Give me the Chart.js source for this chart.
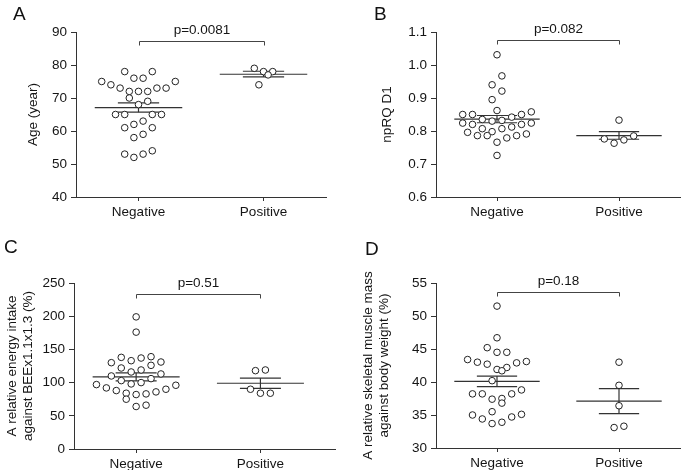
<!DOCTYPE html>
<html><head><meta charset="utf-8">
<script src="https://cdn.jsdelivr.net/npm/chart.js@4/dist/chart.umd.min.js"></script>
<style>
html,body{margin:0;padding:0;background:#fff;}
#wrap{position:relative;width:685px;height:470px;overflow:hidden;font-family:"Liberation Sans",Arial,Helvetica,sans-serif;}
.panel{position:absolute;}
.panel canvas{display:block;}
.letter{position:absolute;font-size:19px;line-height:1;color:#111;}
</style></head><body>
<div id="wrap">
  <div class="panel" style="left:0;top:0;"><canvas id="cA" width="340" height="235"></canvas></div>
  <div class="panel" style="left:340px;top:0;"><canvas id="cB" width="345" height="235"></canvas></div>
  <div class="panel" style="left:0;top:235px;"><canvas id="cC" width="340" height="235"></canvas></div>
  <div class="panel" style="left:340px;top:235px;"><canvas id="cD" width="345" height="235"></canvas></div>
  <div class="letter" style="left:13px;top:4px;">A</div>
  <div class="letter" style="left:374px;top:4px;">B</div>
  <div class="letter" style="left:4px;top:237px;">C</div>
  <div class="letter" style="left:365px;top:239px;">D</div>
</div>
<script>
// ---------- DATA ----------
const categories = ["Negative", "Positive"];

// Panel A: Age (year)
const ageNegative = [78,78,76,76,75,75,74,73,73,73,72,72,72,70,69,68,65,65,65,65,63,62,61,61,59,58,54,53,53,52];
const agePositive = [79,78,78,77,74];
const ageMean = [67.1, 77.2];
const ageSemLow = [65.7, 76.4];
const ageSemHigh = [68.5, 78.1];
const ageTicks = [40,50,60,70,80,90];
const ageP = "p=0.0081";

// Panel B: npRQ D1
const rqNegative = [1.031,0.967,0.940,0.921,0.895,0.862,0.858,0.850,0.850,0.850,0.842,0.835,0.832,0.830,0.824,0.824,0.820,0.820,0.812,0.807,0.807,0.798,0.796,0.791,0.786,0.786,0.786,0.779,0.766,0.726];
const rqPositive = [0.833,0.785,0.776,0.773,0.763];
const rqMean = [0.836, 0.786];
const rqSemLow = [0.825, 0.775];
const rqSemHigh = [0.847, 0.798];
const rqTicks = [0.6,0.7,0.8,0.9,1.0,1.1];
const rqP = "p=0.082";

// Panel C: relative energy intake (%)
const energyNegative = [199,176,139,138,137,133,131,130,126,122,119,116,113,110,106,103,100,98,97,96,92,90,88,86,84,83,82,75,66,64];
const energyPositive = [119,118,90,84,84];
const energyMean = [108.6, 99.0];
const energySemLow = [102.6, 91.3];
const energySemHigh = [114.6, 106.7];
const energyTicks = [0,50,100,150,200,250];
const energyP = "p=0.51";

// Panel D: relative skeletal muscle mass (%)
const muscleNegative = [51.5,46.7,45.2,44.5,44.5,43.4,43.1,43.0,42.9,42.7,42.2,41.9,41.7,40.2,38.8,38.2,38.2,38.2,37.5,37.4,36.8,35.5,35.1,35.0,34.7,34.4,33.9,33.7];
const musclePositive = [43.0,39.5,36.4,33.3,33.1];
const muscleMean = [40.1, 37.1];
const muscleSemLow = [39.3, 35.2];
const muscleSemHigh = [40.9, 39.0];
const muscleTicks = [30,35,40,45,50,55];
const muscleP = "p=0.18";

// ---------- RENDERING ----------
const FONT = '"Liberation Sans", Arial, Helvetica, sans-serif';
const INK = '#151515';
const LINE = '#333333';
const FS = 13.5;

// Scatter-dot layout (computed from values): points are grouped bottom-up into rows
// of limited pixel height; inside a row they are spread centre-out at a fixed spacing.
function rowLayout(values, pxPerY, rowH, spacing) {
  const order = values.map((v, i) => i).sort((a, b) => values[a] - values[b]);
  const offs = new Array(values.length).fill(0);
  let k = 0;
  while (k < order.length) {
    const start = values[order[k]];
    const row = [];
    while (k < order.length && (values[order[k]] - start) * pxPerY <= rowH + 1e-6) { row.push(order[k]); k++; }
    const n = row.length;
    row.forEach((idx, j) => {
      let slot;
      if (n % 2 === 1) slot = j === 0 ? 0 : (j % 2 === 1 ? (j + 1) / 2 : -j / 2);
      else { const m = Math.floor(j / 2) + 0.5; slot = j % 2 === 0 ? -m : m; }
      offs[idx] = slot * spacing;
    });
  }
  return offs;
}

const bracketPlugin = {
  id: 'bracket',
  afterDraw(chart, args, opts) {
    const { ctx, chartArea, scales: { x } } = chart;
    const x0 = Math.round(x.getPixelForValue(0)) + 0.5;
    const x1 = Math.round(x.getPixelForValue(1)) + 0.5;
    const y = Math.round(chartArea.top + opts.gap) + 0.5;
    ctx.save();
    ctx.strokeStyle = '#444';
    ctx.lineWidth = 1;
    ctx.beginPath();
    ctx.moveTo(x0, y + opts.drop); ctx.lineTo(x0, y); ctx.lineTo(x1, y); ctx.lineTo(x1, y + opts.drop);
    ctx.stroke();
    ctx.fillStyle = INK;
    ctx.font = FS + 'px ' + FONT;
    ctx.textAlign = 'center';
    ctx.textBaseline = 'alphabetic';
    ctx.fillText(opts.text, (x0 + x1) / 2, y - opts.textGap);
    ctx.restore();
  }
};

function makePanel(id, cfg) {
  const canvas = document.getElementById(id);
  const W = canvas.width, H = canvas.height;
  const a = cfg.area;
  const pxX = (a.right - a.left) / (cfg.xMax - cfg.xMin);
  const pxY = (a.bottom - a.top) / (cfg.yMax - cfg.yMin);
  const xH = 30;
  const datasets = [];
  const seg = (pts) => ({
    type: 'line', data: pts, borderColor: LINE, borderWidth: 1.2,
    pointRadius: 0, fill: false, tension: 0, order: 2
  });
  cfg.groups.forEach((vals, g) => {
    const m = cfg.mean[g], lo = cfg.low[g], hi = cfg.high[g];
    datasets.push(seg([{ x: g - 0.35, y: m }, { x: g + 0.35, y: m }]));
    datasets.push(seg([{ x: g - 0.165, y: hi }, { x: g + 0.165, y: hi }]));
    datasets.push(seg([{ x: g - 0.165, y: lo }, { x: g + 0.165, y: lo }]));
    datasets.push(seg([{ x: g, y: lo }, { x: g, y: hi }]));
  });
  cfg.groups.forEach((vals, g) => {
    const offs = rowLayout(vals, pxY, 10.5, cfg.spacing);
    datasets.push({
      type: 'scatter',
      data: vals.map((v, i) => ({ x: g + offs[i] / pxX, y: v })),
      pointRadius: 3.3, pointBorderWidth: 1, pointBackgroundColor: '#ffffff',
      pointBorderColor: '#222', showLine: false, order: 1
    });
  });
  return new Chart(canvas, {
    type: 'scatter',
    data: { datasets },
    options: {
      responsive: false, animation: false, devicePixelRatio: 1, events: [],
      layout: { padding: { left: 0, top: a.top, right: W - a.right, bottom: H - a.bottom - xH } },
      plugins: {
        legend: { display: false }, tooltip: { enabled: false },
        bracket: { text: cfg.p, gap: cfg.gap, drop: 4, textGap: 8 }
      },
      scales: {
        x: {
          type: 'linear', min: cfg.xMin, max: cfg.xMax,
          afterBuildTicks: s => { s.ticks = categories.map((c, i) => ({ value: i })); },
          afterFit: s => { s.height = xH; },
          ticks: { callback: v => categories[v], color: INK, font: { family: FONT, size: FS }, padding: 3, maxRotation: 0, autoSkip: false },
          grid: { display: true, drawOnChartArea: false, drawTicks: true, tickLength: 4, color: LINE, lineWidth: 1 },
          border: { display: true, color: LINE, width: 1 }
        },
        y: {
          type: 'linear', min: cfg.yMin, max: cfg.yMax,
          afterBuildTicks: s => { s.ticks = cfg.ticks.map(v => ({ value: v })); },
          afterFit: s => { s.width = a.left; },
          ticks: { callback: v => v.toFixed(cfg.decimals), color: INK, font: { family: FONT, size: FS }, padding: 4 },
          grid: { display: true, drawOnChartArea: false, drawTicks: true, tickLength: 5, color: LINE, lineWidth: 1 },
          border: { display: true, color: LINE, width: 1 },
          title: { display: true, text: cfg.title, color: INK, font: { family: FONT, size: FS, lineHeight: 1.2 }, padding: { top: cfg.titlePad, bottom: 0 } }
        }
      }
    },
    plugins: [bracketPlugin]
  });
}

makePanel('cA', {
  area: { left: 76, right: 326, top: 32, bottom: 197 },
  xMin: -0.5, xMax: 1.5, yMin: 40, yMax: 90, ticks: ageTicks, decimals: 0, spacing: 9.2,
  groups: [ageNegative, agePositive], mean: ageMean, low: ageSemLow, high: ageSemHigh,
  title: 'Age (year)', titlePad: 25, p: ageP, gap: 9
});
makePanel('cB', {
  area: { left: 96, right: 345, top: 32, bottom: 197 },
  xMin: -0.5, xMax: 1.5, yMin: 0.6, yMax: 1.1, ticks: rqTicks, decimals: 1, spacing: 10,
  groups: [rqNegative, rqPositive], mean: rqMean, low: rqSemLow, high: rqSemHigh,
  title: 'npRQ D1', titlePad: 39, p: rqP, gap: 8
});
makePanel('cC', {
  area: { left: 74, right: 337, top: 48, bottom: 214 },
  xMin: -0.5, xMax: 1.6, yMin: 0, yMax: 250, ticks: energyTicks, decimals: 0, spacing: 10,
  groups: [energyNegative, energyPositive], mean: energyMean, low: energySemLow, high: energySemHigh,
  title: ['A relative energy intake', 'against BEEx1.1x1.3 (%)'], titlePad: 4, p: energyP, gap: 11
});
makePanel('cD', {
  area: { left: 96, right: 345, top: 48, bottom: 213 },
  xMin: -0.5, xMax: 1.5, yMin: 30, yMax: 55, ticks: muscleTicks, decimals: 0, spacing: 10,
  groups: [muscleNegative, musclePositive], mean: muscleMean, low: muscleSemLow, high: muscleSemHigh,
  title: ['A relative skeletal muscle mass', 'against body weight (%)'], titlePad: 20, p: muscleP, gap: 9
});
</script>
</body></html>
